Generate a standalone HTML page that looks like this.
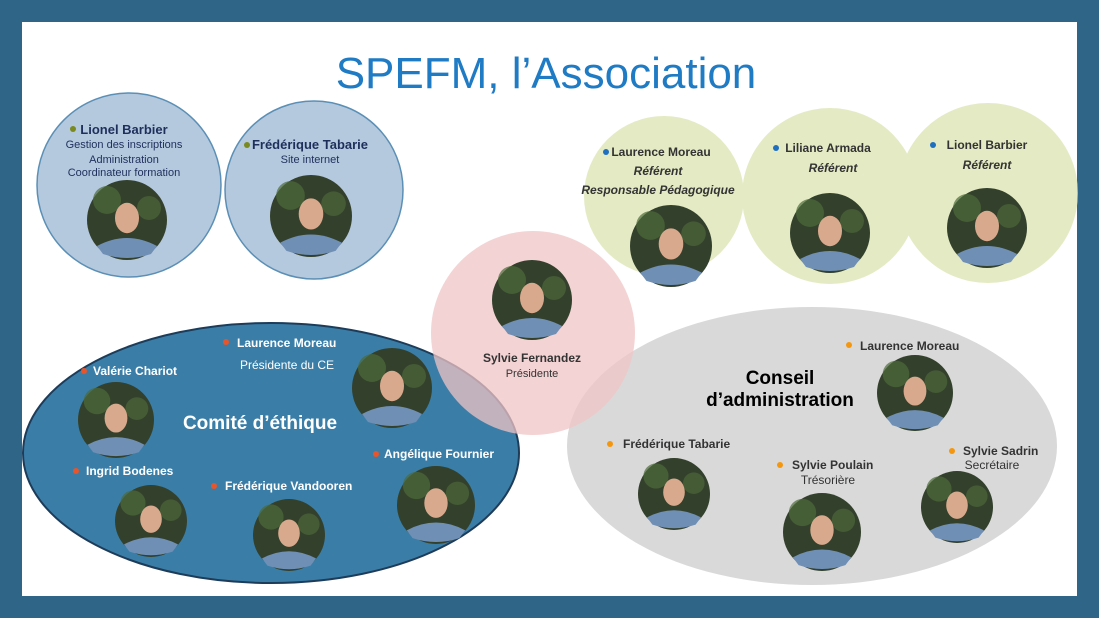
<!DOCTYPE html>
<html><head><meta charset="utf-8"><style>
html,body{margin:0;padding:0;background:#2f6688;}
svg{display:block;font-family:"Liberation Sans",sans-serif;}
</style></head><body>
<svg width="1099" height="618" viewBox="0 0 1099 618">
<defs>
<g id="ph">
 <circle r="1" fill="#33402c"/>
 <circle cx="-0.5" cy="-0.5" r="0.35" fill="#4d6b3a" opacity="0.7"/>
 <circle cx="0.55" cy="-0.3" r="0.3" fill="#506e3c" opacity="0.6"/>
 <ellipse cx="0" cy="-0.05" rx="0.3" ry="0.38" fill="#d8a98c"/>
 <path d="M-0.75,0.65 Q0,0.25 0.75,0.65 L0.6,0.85 Q0,1.05 -0.6,0.85Z" fill="#6f8fb5"/>
</g>
</defs>
<rect x="22" y="22" width="1055" height="574" fill="#fff"/>
<text x="546" y="88" font-size="44" fill="#1e7bc4" text-anchor="middle">SPEFM, l’Association</text>

<circle cx="129" cy="185" r="92" fill="#b4c9de" stroke="#5b8fb5" stroke-width="1.5"/>
<circle cx="314" cy="190" r="89" fill="#b4c9de" stroke="#5b8fb5" stroke-width="1.5"/>
<g fill="#1f2f5c" text-anchor="middle" font-size="11">
<circle cx="73" cy="129" r="3" fill="#7a8a1e"/>
<text x="124" y="134" font-weight="bold" font-size="13">Lionel Barbier</text>
<text x="124" y="148">Gestion des inscriptions</text>
<text x="124" y="163">Administration</text>
<text x="124" y="176">Coordinateur formation</text>
<circle cx="247" cy="145" r="3" fill="#7a8a1e"/>
<text x="310" y="149" font-weight="bold" font-size="13">Frédérique Tabarie</text>
<text x="310" y="163">Site internet</text>
</g>
<use href="#ph" transform="translate(127,220) scale(40)"/>
<use href="#ph" transform="translate(311,216) scale(41)"/>

<g fill="#dbe4b0" opacity="0.75">
<circle cx="664" cy="196" r="80"/>
<circle cx="830" cy="196" r="88"/>
<circle cx="988" cy="193" r="90"/>
</g>
<g font-weight="bold" fill="#333" text-anchor="middle" font-size="12">
<circle cx="606" cy="152" r="3" fill="#1e6fc0"/><text x="661" y="156">Laurence Moreau</text>
<text x="658" y="175" font-style="italic">Référent</text>
<text x="658" y="194" font-style="italic">Responsable Pédagogique</text>
<circle cx="776" cy="148" r="3" fill="#1e6fc0"/><text x="828" y="152">Liliane  Armada</text>
<text x="833" y="172" font-style="italic">Référent</text>
<circle cx="933" cy="145" r="3" fill="#1e6fc0"/><text x="987" y="149">Lionel Barbier</text>
<text x="987" y="169" font-style="italic">Référent</text>
</g>
<use href="#ph" transform="translate(671,246) scale(41)"/>
<use href="#ph" transform="translate(830,233) scale(40)"/>
<use href="#ph" transform="translate(987,228) scale(40)"/>

<ellipse cx="271" cy="453" rx="248" ry="130" fill="#3a7ea8" stroke="#1d3c5a" stroke-width="2"/>
<ellipse cx="812" cy="446" rx="245" ry="139" fill="#d9d9d9"/>
<circle cx="533" cy="333" r="102" fill="#f0c4c6" opacity="0.75"/>
<use href="#ph" transform="translate(532,300) scale(40)"/>
<text x="532" y="362" font-size="12" font-weight="bold" fill="#333" text-anchor="middle">Sylvie Fernandez</text>
<text x="532" y="377" font-size="11" fill="#333" text-anchor="middle">Présidente</text>

<g fill="#fff" font-weight="bold" font-size="12">
<text x="260" y="429" font-size="19" text-anchor="middle">Comité d’éthique</text>
<circle cx="226" cy="342" r="3" fill="#e8552a"/><text x="237" y="347">Laurence Moreau</text>
<text x="240" y="369" font-weight="normal">Présidente du CE</text>
<circle cx="84" cy="371" r="3" fill="#e8552a"/><text x="93" y="375">Valérie Chariot</text>
<circle cx="76" cy="471" r="3" fill="#e8552a"/><text x="86" y="475">Ingrid Bodenes</text>
<circle cx="214" cy="486" r="3" fill="#e8552a"/><text x="225" y="490">Frédérique Vandooren</text>
<circle cx="376" cy="454" r="3" fill="#e8552a"/><text x="384" y="458">Angélique Fournier</text>
</g>
<use href="#ph" transform="translate(392,388) scale(40)"/>
<use href="#ph" transform="translate(116,420) scale(38)"/>
<use href="#ph" transform="translate(151,521) scale(36)"/>
<use href="#ph" transform="translate(289,535) scale(36)"/>
<use href="#ph" transform="translate(436,505) scale(39)"/>

<g fill="#333" font-weight="bold" font-size="12">
<text x="780" y="384" font-size="19" fill="#000" text-anchor="middle">Conseil</text>
<text x="780" y="406" font-size="19" fill="#000" text-anchor="middle">d’administration</text>
<circle cx="849" cy="345" r="3" fill="#f5960f"/><text x="860" y="350">Laurence Moreau</text>
<circle cx="610" cy="444" r="3" fill="#f5960f"/><text x="623" y="448">Frédérique Tabarie</text>
<circle cx="780" cy="465" r="3" fill="#f5960f"/><text x="792" y="469">Sylvie Poulain</text>
<text x="828" y="484" font-weight="normal" text-anchor="middle">Trésorière</text>
<circle cx="952" cy="451" r="3" fill="#f5960f"/><text x="963" y="455">Sylvie Sadrin</text>
<text x="992" y="469" font-weight="normal" text-anchor="middle">Secrétaire</text>
</g>
<use href="#ph" transform="translate(915,393) scale(38)"/>
<use href="#ph" transform="translate(674,494) scale(36)"/>
<use href="#ph" transform="translate(822,532) scale(39)"/>
<use href="#ph" transform="translate(957,507) scale(36)"/>
</svg>
</body></html>
